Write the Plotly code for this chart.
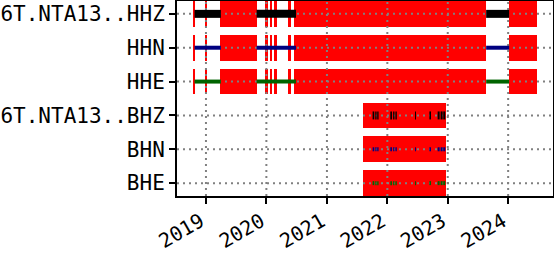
import plotly.graph_objects as go
import pandas as pd

# ---- data ----
channels = ["6T.NTA13..HHZ", "HHN", "HHE", "6T.NTA13..BHZ", "BHN", "BHE"]
rows = [0, 1, 2, 3, 4, 5]
colors = ["#000000", "#000080", "#006400", "#000000", "#000080", "#006400"]
band = ["HH", "HH", "HH", "BH", "BH", "BH"]

hh_data_start = ["2018-10-24", "2019-11-03", "2023-08-21"]
hh_data_end = ["2019-04-01", "2020-06-28", "2024-01-07"]
hh_gap_start = ["2018-10-19", "2018-12-29", "2019-03-28", "2019-12-25", "2020-01-20",
                "2020-02-18", "2020-05-13", "2020-06-18", "2024-01-07"]
hh_gap_end = ["2018-10-27", "2019-01-10", "2019-11-04", "2020-01-08", "2020-02-06",
              "2020-03-06", "2020-05-30", "2023-08-21", "2024-06-24"]

bh_data_start = ["2021-10-04", "2021-10-20", "2021-11-01", "2022-01-19", "2022-02-05",
                 "2022-02-19", "2022-06-17", "2022-09-12", "2022-11-01", "2022-11-19",
                 "2022-12-05"]
bh_data_end = ["2021-10-14", "2021-10-28", "2021-11-09", "2022-01-29", "2022-02-13",
               "2022-02-27", "2022-06-23", "2022-09-22", "2022-11-13", "2022-12-01",
               "2022-12-17"]
bh_gap_start = ["2021-08-05"]
bh_gap_end = ["2022-12-24"]

year_ticks = ["2019-01-01", "2020-01-01", "2021-01-01", "2022-01-01", "2023-01-01", "2024-01-01"]
year_labels = ["2019", "2020", "2021", "2022", "2023", "2024"]
x_range = ["2018-07-10", "2024-09-28"]
y_range = [5.38, -0.38]

# ---- styles ----
FONT = "DejaVu Sans Mono"
data_width_px = {"#000000": 8, "#000080": 4, "#006400": 4}
GAP_H = 0.76
GRID = dict(color="#808080", width=2, dash="2px,4px")
PAD = "<span style='font-size:10px'>\u00a0</span>"

segs = {
    "HH": (hh_data_start, hh_data_end, hh_gap_start, hh_gap_end),
    "BH": (bh_data_start, bh_data_end, bh_gap_start, bh_gap_end),
}

fig = go.Figure()

# gaps (red) as horizontal bars
for r, b in zip(rows, band):
    ds, de, gs, ge = segs[b]
    gs_dt = pd.to_datetime(pd.Series(gs))
    ge_dt = pd.to_datetime(pd.Series(ge))
    dur = ((ge_dt - gs_dt).dt.total_seconds() * 1000).tolist()
    fig.add_trace(go.Bar(
        orientation="h", y=[r] * len(gs), x=dur, base=gs, width=GAP_H,
        marker=dict(color="#ff0000", line=dict(width=0)),
        showlegend=False, hoverinfo="skip"))

# grid lines (drawn above gaps, below data)
for t in year_ticks:
    fig.add_trace(go.Scatter(x=[t, t], y=y_range, mode="lines", line=GRID,
                             showlegend=False, hoverinfo="skip"))
for r in rows:
    fig.add_trace(go.Scatter(x=x_range, y=[r, r], mode="lines", line=GRID,
                             showlegend=False, hoverinfo="skip"))

# data segments
for r, b, c in zip(rows, band, colors):
    ds, de, gs, ge = segs[b]
    xs, ys = [], []
    for s, e in zip(ds, de):
        xs += [s, e, None]
        ys += [r, r, None]
    fig.add_trace(go.Scatter(x=xs, y=ys, mode="lines",
                             line=dict(color=c, width=data_width_px[c]),
                             showlegend=False, hoverinfo="skip"))

axis_common = dict(showline=True, mirror=True, linecolor="#000000", linewidth=2,
                   ticks="outside", ticklen=6, tickwidth=2, tickcolor="#000000",
                   showgrid=False, zeroline=False, automargin=False)

fig.update_layout(
    width=554, height=253,
    margin=dict(l=177, r=1, t=1, b=57),
    paper_bgcolor="white", plot_bgcolor="white",
    barmode="overlay", bargap=0,
    xaxis=dict(type="date", range=x_range, tickvals=year_ticks,
               ticktext=[lab + PAD for lab in year_labels],
               tickangle=-30, ticklabelstandoff=-5,
               tickfont=dict(family=FONT, size=20, color="#000000"), **axis_common),
    yaxis=dict(range=y_range, tickvals=rows, ticktext=channels,
               ticklabelstandoff=0,
               tickfont=dict(family=FONT, size=21, color="#000000"), **axis_common),
)

fig.write_html("out.html")
